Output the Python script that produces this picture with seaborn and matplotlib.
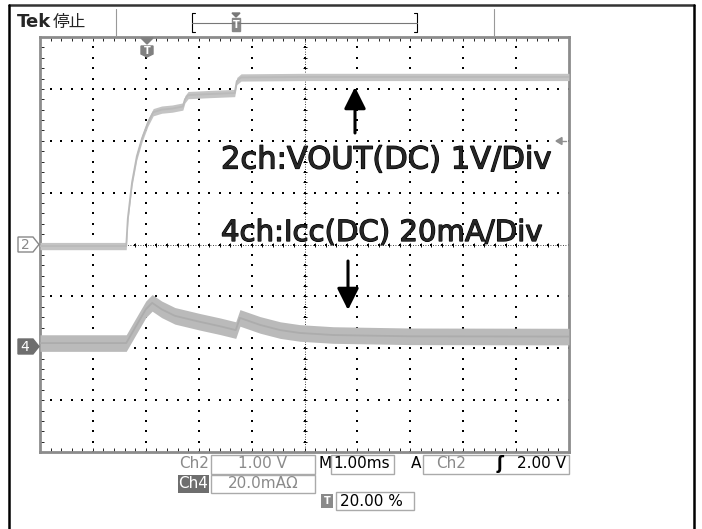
import numpy as np
import matplotlib
matplotlib.use('Agg')
import matplotlib.pyplot as plt
import matplotlib.patheffects as pe
import seaborn as sns
from matplotlib.patches import Polygon, Rectangle, FancyArrowPatch
from matplotlib.lines import Line2D

W, H = 702, 529

# time axis in ms, trigger at 0, 1.00 ms/div, 20 % pretrigger -> -2 .. 8 ms
ch2_t = [-2.0, -0.37, -0.34, -0.26, -0.17, -0.07, 0.04, 0.14, 0.3, 0.5, 0.7, 0.74, 0.8, 1.2, 1.68, 1.72, 1.8, 3.0, 5.0, 8.0]
ch2_v = [-0.03, -0.03, 0.5, 1.2, 1.7, 2.05, 2.35, 2.55, 2.6, 2.62, 2.66, 2.8, 2.88, 2.9, 2.92, 3.15, 3.22, 3.23, 3.23, 3.23]
ch2_noise = 0.07   # V, half height of the noisy trace

ch4_t = [-2.0, -0.37, -0.2, 0.0, 0.12, 0.3, 0.55, 1.02, 1.4, 1.7, 1.78, 2.16, 2.54, 2.91, 3.54, 5.0, 8.0]
ch4_i = [2.0, 2.0, 8.0, 15.0, 17.5, 15.0, 12.5, 10.2, 8.5, 7.0, 11.7, 9.0, 7.0, 5.9, 5.1, 4.6, 4.5]
ch4_noise = 3.2    # mA

label_ch2 = "2ch:VOUT(DC) 1V/Div"
label_ch4 = "4ch:Icc(DC) 20mA/Div"
ch2_scale = "1.00 V"
ch4_scale = "20.0mAΩ"
time_scale = "1.00ms"
trig_src = "Ch2"
trig_level = "2.00 V"
trig_pos = "20.00 %"

sns.set_style('white')
plt.rcParams['font.family'] = ['DejaVu Sans']

fig = plt.figure(figsize=(W / 100, H / 100), dpi=100)


def fx(x):
    return x / W


def fy(y):
    return 1 - y / H


def poly(pts, **kw):
    fig.add_artist(Polygon([(fx(a), fy(b)) for a, b in pts], closed=True,
                           transform=fig.transFigure, **kw))


def line(xs, ys, **kw):
    fig.add_artist(Line2D([fx(a) for a in xs], [fy(b) for b in ys],
                          transform=fig.transFigure, **kw))


def box(x0, y0, x1, y1, **kw):
    fig.add_artist(Rectangle((fx(x0), fy(y1)), (x1 - x0) / W, (y1 - y0) / H,
                             transform=fig.transFigure, **kw))


def txt(x, y, s, **kw):
    fig.text(fx(x), fy(y), s, va='center', **kw)


def arrow(x, y0, y1):
    fig.add_artist(FancyArrowPatch((fx(x), fy(y0)), (fx(x), fy(y1)), transform=fig.transFigure,
                                   arrowstyle='-|>,head_length=0.6,head_width=0.3',
                                   mutation_scale=22, lw=2.2, color='k', shrinkA=0, shrinkB=0))


GL, GT, GR, GB = 40, 37, 569, 452
ax = fig.add_axes([fx(GL), fy(GB), (GR - GL) / W, (GB - GT) / H])
ax.set_xlim(-2, 8)
ax.set_ylim(-4, 4)

# graticule
xminor = np.round(np.arange(-2, 8.001, 0.2), 2)
yminor = np.round(np.arange(-4, 4.001, 0.2), 2)
for xv in range(-1, 8):
    ax.scatter(np.full(len(yminor), xv), yminor, s=1.3, marker='s', color='k', linewidths=0, zorder=1)
for yv in range(-3, 4):
    ax.scatter(xminor, np.full(len(xminor), yv), s=1.3, marker='s', color='k', linewidths=0, zorder=1)
ax.axvline(3, color='k', lw=0.6, ls=(0, (1, 2)), zorder=1)
ax.axhline(0, color='k', lw=0.6, ls=(0, (1, 2)), zorder=1)
ax.scatter(np.full(len(yminor), 3), yminor, s=12, marker='_', color='k', linewidths=0.7, zorder=1)
ax.scatter(xminor, np.zeros(len(xminor)), s=12, marker='|', color='k', linewidths=0.7, zorder=1)

ax.set_xticks(range(-2, 9))
ax.set_xticks(xminor, minor=True)
ax.set_yticks(range(-4, 5))
ax.set_yticks(yminor, minor=True)
ax.tick_params(which='both', direction='in', top=True, right=True, bottom=True, left=True,
               labelbottom=False, labelleft=False, length=3, width=0.6, color='k')
for sp in ax.spines.values():
    sp.set_color('#8c8c8c')
    sp.set_linewidth(2)

# Ch2 trace
c2 = np.array(ch2_v)
ax.fill_between(ch2_t, c2 - ch2_noise, c2 + ch2_noise, color='#c4c4c4', lw=0, zorder=3)
sns.lineplot(x=ch2_t, y=ch2_v, ax=ax, color='#bababa', linewidth=1.3, zorder=3)

# Ch4 trace on its own scale: 20 mA/div, ground at -2 div
ax2 = ax.twinx()
ax2.set_ylim(-40, 120)
c4 = np.array(ch4_i)
ax2.fill_between(ch4_t, c4 - ch4_noise, c4 + ch4_noise, color='#bababa', lw=0, zorder=3)
sns.lineplot(x=ch4_t, y=ch4_i, ax=ax2, color='#acacac', linewidth=1.3, zorder=3)
ax2.axis('off')
ax.set_xlabel('')
ax.set_ylabel('')

# annotations inside the screen
heavy = [pe.withStroke(linewidth=0.9, foreground='k')]
txt(221, 160, label_ch2, fontsize=22, family='DejaVu Sans', path_effects=heavy)
txt(221, 233, label_ch4, fontsize=21, family='DejaVu Sans', path_effects=heavy)
arrow(355, 133, 87)
arrow(348, 261, 310)

# outer frame
line([9, 694], [5, 5], color='#333333', lw=1.8)
line([9, 9], [5, 529], color='k', lw=1.8)
line([694, 694], [5, 529], color='k', lw=1.8)

# header
txt(17, 22, "Tek", fontsize=13, fontweight='bold')
txt(53, 22, "停止", fontsize=12, family=['Noto Sans CJK JP', 'DejaVu Sans'])
line([116, 116], [9, 36], color='#999999', lw=0.8)
line([494, 494], [9, 36], color='#999999', lw=0.8)
line([195, 192, 192, 195], [13, 13, 32, 32], color='k', lw=0.8)
line([414, 417, 417, 414], [13, 13, 32, 32], color='k', lw=0.8)
line([192, 417], [22.5, 22.5], color='#777777', lw=0.8)
poly([(232, 13), (240, 13), (236, 17)], color='#777777')
poly([(232, 18), (240, 18), (240, 31), (232, 31)], color='#888888')
txt(236, 25, "T", fontsize=7, color='white', ha='center', fontweight='bold')

# trigger position marker
poly([(141, 38), (153, 38), (147, 44)], color='#808080')
poly([(141, 46), (153, 46), (153, 54), (147, 57), (141, 54)], color='#808080')
txt(147, 51, "T", fontsize=7, color='white', ha='center', fontweight='bold')

# trigger level marker
poly([(556, 141), (562, 137.5), (562, 144.5)], color='#909090')
line([561, 566], [141, 141], color='#909090', lw=1)

# channel ground markers
poly([(18, 237), (33, 237), (39, 244.5), (33, 252), (18, 252)], facecolor='white', edgecolor='#888888', lw=1)
txt(25, 245, "2", fontsize=10, color='#888888', ha='center')
poly([(18, 339), (33, 339), (39, 346.5), (33, 354), (18, 354)], facecolor='#6e6e6e', edgecolor='#6e6e6e', lw=1)
txt(25, 347, "4", fontsize=10, color='white', ha='center')

# readout
gray = '#8a8a8a'
txt(179, 464, "Ch2", fontsize=11, color=gray)
box(211, 455, 315, 474, fill=False, edgecolor='#aaaaaa', lw=1)
txt(263, 464, ch2_scale, fontsize=11, color=gray, ha='center')
txt(318, 464, "M", fontsize=11, color='k')
box(331, 455, 394, 474, fill=False, edgecolor='#aaaaaa', lw=1)
txt(362, 464, time_scale, fontsize=11, color='k', ha='center')
txt(411, 464, "A", fontsize=11, color='k')
box(423, 455, 569, 474, fill=False, edgecolor='#aaaaaa', lw=1)
txt(436, 464, trig_src, fontsize=11, color=gray)
txt(500, 464, "ʃ", fontsize=12, color='k', ha='center', fontweight='bold')
txt(566, 464, trig_level, fontsize=11, color='k', ha='right')

box(178, 475, 209, 493, facecolor='#6e6e6e', edgecolor='#6e6e6e', lw=0)
txt(193.5, 484, "Ch4", fontsize=11, color='white', ha='center')
box(211, 475, 315, 493, fill=False, edgecolor='#aaaaaa', lw=1)
txt(263, 484, ch4_scale, fontsize=11, color=gray, ha='center')

box(321, 494, 333, 508, facecolor='#8a8a8a', edgecolor='#8a8a8a', lw=0)
txt(327, 501, "T", fontsize=7, color='white', ha='center', fontweight='bold')
box(336, 492, 414, 510, fill=False, edgecolor='#aaaaaa', lw=1)
txt(340, 501, trig_pos, fontsize=11, color='k')

fig.savefig('out.png', dpi=100)
